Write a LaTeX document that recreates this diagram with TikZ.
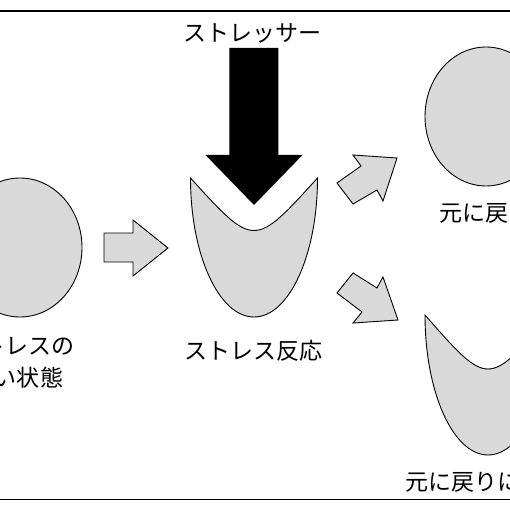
\documentclass[tikz,border=0pt]{standalone}
\usepackage{fontspec}
\newfontfamily\jp{Noto Sans CJK JP}
\definecolor{shapegray}{RGB}{217,217,217}
\begin{document}
\begin{tikzpicture}[x=1pt,y=-1pt,
  grayshape/.style={draw=black,line width=0.9pt,fill=shapegray,line join=miter},
  lbl/.style={font=\jp\fontsize{23}{32}\selectfont,inner sep=0pt,align=center,text=black}]
\clip (0,0) rectangle (510,510);
\useasboundingbox (0,0) rectangle (510,510);
\fill[white] (0,0) rectangle (510,510);
% frame lines
\draw[line width=1.4pt] (0,11) -- (510,11);
\draw[line width=0.9pt] (0,499) -- (510,499);
% left circle
\draw[grayshape] (20,247.5) ellipse[x radius=62pt,y radius=69.5pt];
% right top circle
\draw[grayshape] (486,116.5) ellipse[x radius=61pt,y radius=69.5pt];
% middle shield
\draw[grayshape] (190.5,178) .. controls (254,248) .. (317.5,178)
  .. controls (317.5,254.8) and (289.1,317) .. (254,317)
  .. controls (218.9,317) and (190.5,254.8) .. (190.5,178) -- cycle;
% lower right shield
\draw[grayshape] (425,315) .. controls (488,387) .. (551,315)
  .. controls (551,392.3) and (522.8,455) .. (488,455)
  .. controls (453.2,455) and (425,392.3) .. (425,315) -- cycle;
% black stressor arrow
\fill[black] (229.3,48) -- (278.3,48) -- (278.3,155) -- (302.5,155) -- (254,205) -- (205.5,155) -- (229.3,155) -- cycle;
% right arrow
\draw[grayshape] (104,233) -- (133,233) -- (133,220) -- (168,248) -- (133,276) -- (133,262) -- (104,262) -- cycle;
% up-right arrow
\draw[grayshape] (397,158) -- (353,155) -- (361,166) -- (337,183) -- (353,204) -- (377,190) -- (383,201) -- cycle;
% down-right arrow
\draw[grayshape] (353,273) -- (377,288) -- (383,277) -- (398,320) -- (353,323) -- (362,312) -- (337,293) -- cycle;
% labels
\node[lbl] (stressor) at (252,33) {ストレッサー};
\node[lbl] (response) at (253,351) {ストレス反応};
\node[lbl] (nostress) at (17,362) {ストレスの\\ない状態};
\node[lbl] (recover) at (485,213) {元に戻る};
\node[lbl] (norecover) at (486,482) {元に戻りにくい};
\end{tikzpicture}
\end{document}
